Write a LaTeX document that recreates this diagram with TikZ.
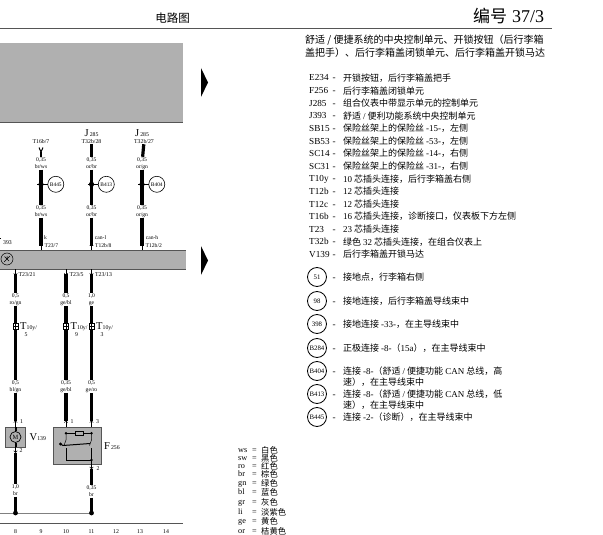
\documentclass[tikz,border=0pt]{standalone}
\usepackage{fontspec}
\setmainfont{Liberation Serif}
\newfontfamily\cjk{Noto Sans CJK SC}
\usetikzlibrary{arrows.meta}
\newcommand{\la}[1]{{\rmfamily #1}}
\newcommand{\fs}[1]{\fontsize{#1}{#1}\selectfont}
\definecolor{panelgray}{HTML}{B0B0B0}
\definecolor{rulegray}{HTML}{555555}
\tikzset{
    wire/.style={line width=3.2pt,black},
    pin/.style={line width=0.5pt,-{Straight Barb[length=1.8pt,width=3.6pt]}},
    panel/.style={fill=panelgray},
    rulex/.style={line width=0.8pt,rulegray},
    lab/.style={inner sep=0.6pt,align=center,font=\fontsize{5.6}{6.9}\selectfont},
    small/.style={inner sep=0pt,anchor=west,font=\fs{5.8}},
    big/.style={inner sep=0pt,anchor=west,font=\fs{10.5}},
    sym/.style={draw,circle,line width=0.6pt,minimum size=16pt,inner sep=0pt,font=\fs{5.4}},
    bigsym/.style={draw,circle,line width=0.8pt,minimum size=19pt,inner sep=0pt,font=\fs{6.8}},
    code/.style={inner sep=0pt,anchor=west,text height=7pt,text depth=1pt,font=\fs{9.2}},
    cjktext/.style={inner sep=0pt,anchor=west,font=\cjk\fs{9}},
    legend/.style={inner sep=0pt,anchor=west,text height=5.5pt,text depth=0.5pt,font=\fs{8.2}},
    legendcjk/.style={inner sep=0pt,anchor=west,font=\cjk\fs{8.3}},
}
\begin{document}
\begin{tikzpicture}[x=1pt,y=-1pt]
    \useasboundingbox (0,0) rectangle (603,535);

    % header
    \node[inner sep=0pt,font=\cjk\fs{11.5}] (title) at (172.5,18) {电路图};
    \node[inner sep=0pt,anchor=west,font=\cjk\fs{17}] (page) at (473,15.5) {编号\hspace{5pt}\la{\fs{18}37/3}};
    \coordinate (hl) at (0,28.5);
    \coordinate (hr) at (552,28.5);
    \draw[rulex] (hl) -- (hr);

    % panels
    \fill[panel] (0,43) rectangle (183,122);
    \draw[rulex] (0,122) -- (183,122);
    \fill[panel] (0,250) rectangle (185.5,269);
    \draw[rulex] (0,250) -- (185.5,250);
    \draw[rulex] (0,269) -- (185.5,269);
    \fill (201,68) -- (208,82.5) -- (201,97) -- cycle;
    \fill (201,246) -- (208,260.5) -- (201,275) -- cycle;

    % upper wires
    \node[small,anchor=center] (t1) at (41,142) {T16b/7};
    \node[small,anchor=center] (t2) at (91.5,142) {T32b/28};
    \node[small,anchor=center] (t3) at (144,142) {T32b/27};
    \node[big,anchor=base west] (j2) at (84.5,136) {J\fs{5.8}\,285};
    \node[big,anchor=base west] (j3) at (135,136) {J\fs{5.8}\,285};
    \foreach \n/\x/\col/\cs/\pb/\ya in {1/41/br/ws/T23\slash 7/B445,
                                        2/91.5/or/br/T12b\slash 8/B413,
                                        3/142/or/gn/T12b\slash 2/B404} {
        \node[lab] (a\n) at (\x,163.5) {0,35\\\col/\cs};
        \node[lab] (b\n) at (\x,211.5) {0,35\\\col/\cs};
        \coordinate (f\n) at (\x,250);
        \coordinate (q\n) at (\x,246);
        \draw[wire] (a\n) -- (b\n);
        \draw[wire] (b\n) -- (q\n);
        \draw[pin] (f\n) -- ++(0,-6.5);
        \coordinate (d\n) at (\x,184.3);
        \fill (d\n) circle (2.6pt);
        \node[sym] (s\n) at (\x+14.8,184.3) {\ya};
        \draw[line width=0.6pt] ([xshift=-4pt]d\n) -- (s\n);
        \node[small,anchor=base west,font=\fs{5.6}] (k\n) at (\x+3.5,247) {\pb};
    }
    \draw[wire] (t2) -- (a2);
    \draw[wire] (t3) -- (a3);
    \draw[wire,line width=2.4pt] (41,152) -- (a1);
    \draw[line width=1pt] (39,147.5) -- (41,152) -- (43,147.5);
    \node[small,anchor=base,font=\fs{5.6}] (c1) at (45.5,239) {k};
    \node[small,anchor=base,font=\fs{5.6}] (c2) at (100.5,239) {can-l};
    \node[small,anchor=base,font=\fs{5.6}] (c3) at (152,239) {can-h};
    \node[small] (j393) at (3,243) {393};
    \draw[line width=0.5pt] (0,238) -- (1,238);

    % control unit symbol
    \node[draw,circle,line width=0.5pt,minimum size=12pt,inner sep=0pt] (earth) at (7,259) {};
    \draw[line width=0.5pt] (4,262) -- (10,256) (4.5,256.5) -- (9,261) (7,256) -- (7,259);

    % lower wires
    \node[small] (p4) at (18.5,274.5) {T23/21};
    \node[small] (p5) at (69.5,274.5) {T23/5};
    \node[small] (p6) at (95,274.5) {T23/13};
    \node[lab] (u4) at (15.5,299.5) {0,5\\ro/gn};
    \node[lab] (u5) at (66,299.5) {0,5\\ge/bl};
    \node[lab] (u6) at (91.5,299.5) {1,0\\ge};
    \node[lab] (v4) at (15.5,386.5) {0,5\\bl/gn};
    \node[lab] (v5) at (66,386.5) {0,35\\ge/bl};
    \node[lab] (v6) at (91.5,386.5) {0,5\\ge/ro};
    \foreach \n/\x/\num/\pn in {4/15.5/5/1,5/66/9/1,6/91.5/3/3} {
        \coordinate (e\n) at (\x,269);
        \coordinate (g\n) at (\x,273.5);
        \coordinate (h\n) at (\x,420.5);
        \coordinate (r\n) at (\x,427);
        \draw[pin] (e\n) -- ++(0,6.5);
        \draw[wire] (g\n) -- (u\n);
        \draw[wire] (u\n) -- (v\n);
        \draw[wire] (v\n) -- (h\n);
        \draw[pin] (r\n) -- ++(0,-6.5);
        \node[draw,line width=0.5pt,fill=white,minimum width=5pt,minimum height=6pt,inner sep=0pt] (c\n) at (\x,326) {};
        \draw[line width=0.4pt] (\x-2.5,326) -- (\x+2.5,326) (\x,323) -- (\x,329);
        \node[big] (ty\n) at (\x+4.5,327) {T\fs{5.8}10y/};
        \node[small,anchor=center] (nu\n) at (\x+10.5,335) {\num};
        \node[small] (pn\n) at (\x+4.5,422) {\pn};
    }

    % motor V139
    \node[draw=rulegray,panel,line width=0.5pt,minimum width=20pt,minimum height=20pt,inner sep=0pt] (v139) at (15.5,437) {};
    \node[draw,circle,line width=0.7pt,minimum size=11pt,inner sep=0pt,font=\fs{6.4}] (m) at (15.5,437) {M};
    \draw[line width=2pt] (v139.north) -- (m);
    \draw[line width=2pt] (v139.south) -- (m);
    \node[big] (vt) at (29.5,437) {V\fs{5.8}139};
    \draw[pin] (v139.south) -- ++(0,5.5);
    \node[small] (p7) at (19.5,451) {2};
    \node[lab] (w4) at (15.5,490.5) {1,0\\br};
    \coordinate (b4) at (15.5,513);
    \coordinate (m4) at (15.5,452.5);
    \coordinate (b0) at (0,513);
    \draw[wire] (m4) -- (w4);
    \draw[wire,line width=3.6pt] (w4) -- (b4);

    % lock unit F256
    \node[draw=rulegray,panel,line width=0.5pt,minimum width=48pt,minimum height=37pt,inner sep=0pt] (f256) at (77.5,445.5) {};
    \coordinate (cl) at (66,433.3);
    \coordinate (cr) at (91.5,433.3);
    \coordinate (bl) at (66,448);
    \coordinate (br) at (91.5,448);
    \coordinate (gn) at (91.5,460);
    \node[draw,fill=panelgray,line width=0.5pt,minimum width=8pt,minimum height=4pt,inner sep=0pt] (res) at (79,433.3) {};
    \draw[line width=0.5pt] (cl) -- (res) -- (cr);
    \fill (cl) circle (1.4pt) (cr) circle (1.4pt) (gn) circle (1.4pt);
    \draw[line width=0.5pt] (cl) -- (66,440) -- (64,445.5);
    \draw[line width=0.5pt] (cr) -- (91.5,440) -- (89.5,445.5);
    \fill (60.5,444) circle (1.6pt);
    \draw[line width=1pt] (60.5,444) -- (63,445.5) -- (90,443.5);
    \draw[line width=0.5pt] (bl) -- (66,460) -- (gn);
    \draw[line width=0.5pt] (br) -- (91.5,464);
    \node[big] (ft) at (104,446) {F\fs{5.8}\,256};
    \draw[pin] (91.5,464) -- ++(0,5);
    \node[small] (p8) at (96.5,468.5) {2};
    \node[lab] (w6) at (91.5,491.5) {0,35\\br};
    \coordinate (m6) at (91.5,468.5);
    \coordinate (b6) at (91.5,513);
    \draw[wire] (m6) -- (w6);
    \draw[wire,line width=3.6pt] (w6) -- (b6);
    \draw[line width=0.9pt,gray] (b0) -- (b6);
    \fill (b4) circle (2.4pt) (b6) circle (2.4pt);

    % track numbers
    \coordinate (bl2) at (0,523.5);
    \coordinate (br2) at (183,523.5);
    \draw[rulex] (bl2) -- (br2);
    \foreach \x/\num in {15.5/8,41/9,66/10,91.5/11,116/12,140/13,166/14}
        \node[small,anchor=center] (tr\num) at (\x,532) {\num};

    % right column
    \node[cjktext,font=\cjk\fs{10}] (h1) at (305,40) {舒适 / 便捷系统的中央控制单元、开锁按钮（后行李箱};
    \node[cjktext,font=\cjk\fs{10}] (h2) at (305,52.5) {盖把手）、后行李箱盖闭锁单元、后行李箱盖开锁马达};
    \foreach \code/\txt [count=\i] in {E234/开锁按钮，后行李箱盖把手,
                                       F256/后行李箱盖闭锁单元,
                                       J285/组合仪表中带显示单元的控制单元,
                                       J393/{舒适 \la{/} 便利功能系统中央控制单元},
                                       SB15/保险丝架上的保险丝 \la{-15-}，左侧,
                                       SB53/保险丝架上的保险丝 \la{-53-}，左侧,
                                       SC14/保险丝架上的保险丝 \la{-14-}，右侧,
                                       SC31/保险丝架上的保险丝 \la{-31-}，右侧,
                                       T10y/\la{10} 芯插头连接，后行李箱盖右侧,
                                       T12b/\la{12} 芯插头连接,
                                       T12c/\la{12} 芯插头连接,
                                       T16b/\la{16} 芯插头连接，诊断接口，仪表板下方左侧,
                                       T23/\la{23} 芯插头连接,
                                       T32b/绿色 \la{32} 芯插头连接，在组合仪表上,
                                       V139/后行李箱盖开锁马达} {
        \node[code] (co\i) at (309,65.4+12.6*\i) {\code};
        \node[code] (da\i) at (332.5,65.4+12.6*\i) {-};
        \node[cjktext] (tx\i) at (343,65.4+12.6*\i) {\txt};
    }
    \foreach \sm/\yy [count=\i] in {51/277,98/301,398/324,B284/348,B404/371,B413/394,B445/417} {
        \node[bigsym] (ci\i) at (317,\yy) {\sm};
        \node[code] (cd\i) at (332.5,\yy) {-};
    }
    \foreach \yy/\txt [count=\i] in {277/接地点，行李箱右侧,
                                     301/接地连接，后行李箱盖导线束中,
                                     324/接地连接 \la{-33-}，在主导线束中,
                                     348/正极连接 \la{-8-}（\la{15a}），在主导线束中,
                                     371/{连接 \la{-8-}（舒适 \la{/} 便捷功能 \la{CAN} 总线，高},
                                     382.5/速），在主导线束中,
                                     394/{连接 \la{-8-}（舒适 \la{/} 便捷功能 \la{CAN} 总线，低},
                                     405.5/速），在主导线束中,
                                     417/连接 \la{-2-}（诊断），在主导线束中} {
        \node[cjktext] (ct\i) at (343,\yy) {\txt};
    }

    % colour legend
    \foreach \cc/\yy/\txt [count=\i] in {ws/450/白色,sw/458/黑色,ro/466/红色,br/474/棕色,gn/483/绿色,
                                         bl/492/蓝色,gr/502/灰色,li/512/淡紫色,ge/521/黄色,or/531/桔黄色} {
        \node[legend] (lc\i) at (238,\yy) {\cc};
        \node[legend] (le\i) at (252,\yy) {=};
        \node[legendcjk] (ln\i) at (261,\yy) {\txt};
    }
\end{tikzpicture}
\end{document}
